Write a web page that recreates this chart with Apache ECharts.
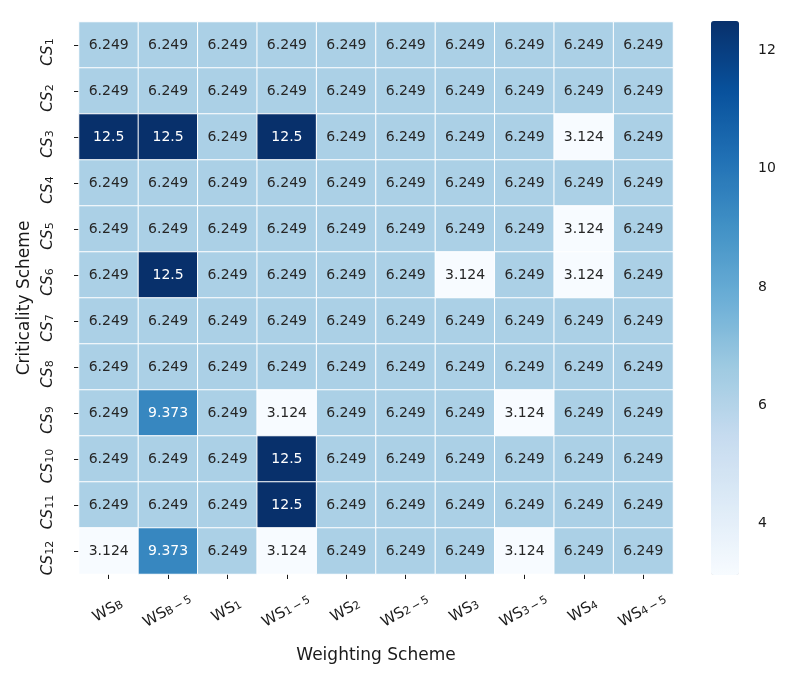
<!DOCTYPE html>
<html>
<head>
<meta charset="utf-8">
<script src="https://cdn.jsdelivr.net/npm/echarts@6/dist/echarts.min.js"></script>
<style>
  html, body { margin: 0; padding: 0; background: #fff; }
  #chart { width: 794px; height: 682px; }
</style>
</head>
<body>
<div id="chart"></div>
<script>
/* Criticality vs weighting scheme heatmap. */
(function () {
  "use strict";

  const MINUS = "\u2009\u2212\u2009";
  // column subscripts, WS_x
  const wsSubs = ["B", "B" + MINUS + "5", "1", "1" + MINUS + "5", "2", "2" + MINUS + "5",
                  "3", "3" + MINUS + "5", "4", "4" + MINUS + "5"];
  // row subscripts, CS_x
  const csSubs = ["1", "2", "3", "4", "5", "6", "7", "8", "9", "10", "11", "12"];

  const cs1  = [6.249, 6.249, 6.249, 6.249, 6.249, 6.249, 6.249, 6.249, 6.249, 6.249];
  const cs2  = [6.249, 6.249, 6.249, 6.249, 6.249, 6.249, 6.249, 6.249, 6.249, 6.249];
  const cs3  = [12.5, 12.5, 6.249, 12.5, 6.249, 6.249, 6.249, 6.249, 3.124, 6.249];
  const cs4  = [6.249, 6.249, 6.249, 6.249, 6.249, 6.249, 6.249, 6.249, 6.249, 6.249];
  const cs5  = [6.249, 6.249, 6.249, 6.249, 6.249, 6.249, 6.249, 6.249, 3.124, 6.249];
  const cs6  = [6.249, 12.5, 6.249, 6.249, 6.249, 6.249, 3.124, 6.249, 3.124, 6.249];
  const cs7  = [6.249, 6.249, 6.249, 6.249, 6.249, 6.249, 6.249, 6.249, 6.249, 6.249];
  const cs8  = [6.249, 6.249, 6.249, 6.249, 6.249, 6.249, 6.249, 6.249, 6.249, 6.249];
  const cs9  = [6.249, 9.373, 6.249, 3.124, 6.249, 6.249, 6.249, 3.124, 6.249, 6.249];
  const cs10 = [6.249, 6.249, 6.249, 12.5, 6.249, 6.249, 6.249, 6.249, 6.249, 6.249];
  const cs11 = [6.249, 6.249, 6.249, 12.5, 6.249, 6.249, 6.249, 6.249, 6.249, 6.249];
  const cs12 = [3.124, 9.373, 6.249, 3.124, 6.249, 6.249, 6.249, 3.124, 6.249, 6.249];
  const rows = [cs1, cs2, cs3, cs4, cs5, cs6, cs7, cs8, cs9, cs10, cs11, cs12];

  const colorTicks = [4, 6, 8, 10, 12];
  const vMin = 3.124, vMax = 12.5;

  // matplotlib "Blues"
  const blues = ["#f7fbff", "#deebf7", "#c6dbef", "#9ecae1", "#6baed6",
                 "#4292c6", "#2171b5", "#08519c", "#08306b"];

  const font = "'DejaVu Sans', sans-serif";
  const ink = "#1a1a1a";

  const data = [];
  rows.forEach(function (row, r) {
    row.forEach(function (v, c) {
      data.push({ value: [c, r, v], label: { color: v > 8 ? "#fff" : "#262626" } });
    });
  });

  const chart = echarts.init(document.getElementById("chart"), null, { renderer: "canvas" });
  chart.setOption({
    animation: false,
    backgroundColor: "#fff",
    grid: [
      { left: 79, top: 22, width: 594, height: 552 },
      { left: 711, top: 21, width: 28, height: 554 }
    ],
    xAxis: [
      {
        type: "category",
        data: wsSubs,
        axisLine: { show: false },
        axisTick: { show: true, alignWithLabel: true, length: 5, lineStyle: { color: ink, width: 1 } },
        splitLine: { show: false },
        axisLabel: {
          interval: 0, hideOverlap: false,
          rotate: 30, align: "center", verticalAlign: "middle", margin: 38,
          formatter: function (s) { return "{m|WS}{s|" + s + "}"; },
          rich: {
            m: { fontFamily: font, fontSize: 15, color: ink, padding: [0, 0, 3, 0] },
            s: { fontFamily: font, fontSize: 11, color: ink }
          }
        },
        name: "Weighting Scheme",
        nameLocation: "middle",
        nameGap: 73,
        nameTextStyle: { fontFamily: font, fontSize: 17, color: ink }
      },
      { gridIndex: 1, type: "value", show: false, min: 0, max: 1 }
    ],
    yAxis: [
      {
        type: "category",
        data: csSubs,
        inverse: true,
        axisLine: { show: false },
        axisTick: { show: true, alignWithLabel: true, length: 5, lineStyle: { color: ink, width: 1 } },
        splitLine: { show: false },
        axisLabel: {
          interval: 0, hideOverlap: false,
          rotate: 90, align: "center", verticalAlign: "bottom", margin: 20,
          formatter: function (s) { return "{m|CS}{s|" + s + "}"; },
          rich: {
            m: { fontFamily: font, fontSize: 15, fontStyle: "italic", color: ink, padding: [0, 0, 3, 0] },
            s: { fontFamily: font, fontSize: 11, color: ink, padding: [0, 14, 0, 0] }
          }
        },
        name: "Criticality Scheme",
        nameLocation: "middle",
        nameGap: 44,
        nameTextStyle: { fontFamily: font, fontSize: 17, color: ink }
      },
      {
        gridIndex: 1, type: "value", position: "right",
        min: vMin, max: vMax,
        axisLine: { show: false },
        splitLine: { show: false },
        axisTick: { show: true, length: 5, customValues: colorTicks, lineStyle: { color: ink, width: 1 } },
        axisLabel: { customValues: colorTicks, margin: 19, fontFamily: font, fontSize: 14, color: ink }
      }
    ],
    visualMap: {
      type: "continuous",
      seriesIndex: 0,
      min: vMin, max: vMax,
      calculable: false,
      hoverLink: false,
      orient: "vertical",
      left: 711, top: 21,
      itemWidth: 28, itemHeight: 554,
      padding: 0,
      text: null,
      showLabel: false,
      inRange: { color: blues }
    },
    series: [{
      type: "heatmap",
      data: data,
      itemStyle: { borderColor: "#fff", borderWidth: 1 },
      label: {
        show: true,
        fontFamily: font,
        fontSize: 14,
        formatter: function (p) { return String(p.value[2]); }
      },
      emphasis: { disabled: true }
    }]
  });
})();
</script>
</body>
</html>
